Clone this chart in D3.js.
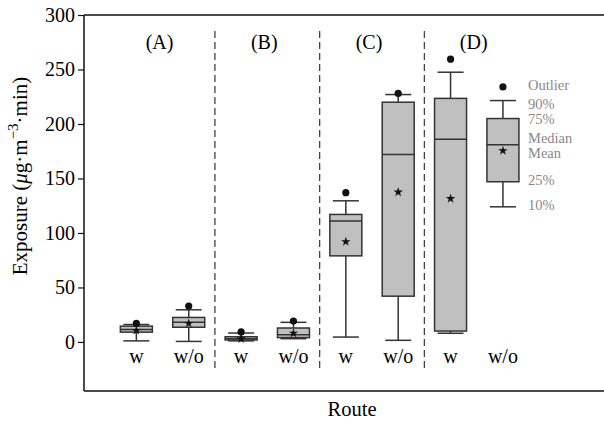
<!DOCTYPE html>
<html>
<head>
<meta charset="utf-8">
<script src="https://cdn.jsdelivr.net/npm/d3@7"></script>
<style>
  body { margin: 0; background: #fff; }
  svg text { font-family: "Liberation Serif", "Times New Roman", serif; }
</style>
</head>
<body>
<svg id="chart" width="604" height="423"></svg>
<script>
// groups and routes
var groups = ["(A)", "(B)", "(C)", "(D)"];
var routes = ["w", "w/o", "w", "w/o", "w", "w/o", "w", "w/o"];

// box stats, one entry per box
var p10     = [1,    0.5,  1,   3,    4.5,   1.5,   8,     124];
var p25     = [9,    13.5, 1.8, 4,    79,    42,    10,    147];
var median  = [11.5, 18,   3,   6.5,  111,   172,   186,   181];
var p75     = [14.5, 22.5, 4.8, 12.8, 117,   220,   223.5, 205];
var p90     = [16,   29.5, 8.2, 18,   129.5, 227,   247.5, 221.5];
var mean    = [10.5, 17,   2.8, 8,    92,    137.5, 131.5, 175.5];
var outlier = [17,   33,   9.2, 19.2, 137,   228,   259.5, 234];

var yTicks = [0, 50, 100, 150, 200, 250, 300];
var legendLabels = ["Outlier", "90%", "75%", "Median", "Mean", "25%", "10%"];

var svg = d3.select("#chart");
var plotL = 84, plotT = 15, plotR = 604, plotB = 391;

var y = d3.scaleLinear().domain([-45, 300]).range([plotB, plotT]);
// slot 0 is empty, boxes sit on slots 1..8
var x = d3.scaleLinear().domain([0, 9.93]).range([plotL, plotR]);

var boxes = routes.map(function (r, i) {
    return {
        route: r, pos: i + 1,
        p10: p10[i], p25: p25[i], median: median[i], p75: p75[i],
        p90: p90[i], mean: mean[i], outlier: outlier[i]
    };
});

var boxW = 32, capW = 26;
var ink = "#333";
var txt = "#000";

/* frame */
svg.append("line").attr("x1", plotL).attr("x2", plotR).attr("y1", plotT).attr("y2", plotT)
    .attr("stroke", "#111").attr("stroke-width", 1.5);
svg.append("line").attr("x1", plotL).attr("x2", plotR).attr("y1", plotB).attr("y2", plotB)
    .attr("stroke", "#111").attr("stroke-width", 1.5);

/* y axis */
var yAxis = svg.append("g")
    .attr("transform", "translate(" + plotL + ",0)")
    .call(d3.axisLeft(y).tickValues(yTicks).tickSize(6).tickPadding(3));
yAxis.select(".domain").remove();
yAxis.append("line").attr("y1", plotT).attr("y2", plotB)
    .attr("stroke", "#111").attr("stroke-width", 1.5);
yAxis.selectAll(".tick line").attr("stroke", "#111").attr("stroke-width", 1.2);
yAxis.selectAll(".tick text")
    .attr("font-size", 20).attr("fill", txt)
    .style("font-family", "Liberation Serif, serif");

/* y label */
var ylab = svg.append("text")
    .attr("transform", "translate(27," + 176 + ") rotate(-90)")
    .attr("text-anchor", "middle")
    .attr("font-size", 21)
    .attr("fill", txt);
ylab.append("tspan").text("Exposure (");
ylab.append("tspan").attr("font-style", "italic").text("\u03bc");
ylab.append("tspan").text("g\u00b7m");
ylab.append("tspan").attr("dy", -9).attr("font-size", 15).text("\u22123");
ylab.append("tspan").attr("dy", 9).text("\u00b7min)");

/* x label */
svg.append("text")
    .attr("x", (plotL + plotR) / 2 + 8).attr("y", 416)
    .attr("text-anchor", "middle")
    .attr("font-size", 20.5).attr("fill", txt)
    .text("Route");

/* dividers between groups */
var dividers = [2.5, 4.5, 6.5];
svg.selectAll("line.divider")
    .data(dividers)
    .enter()
    .append("line")
    .attr("class", "divider")
    .attr("x1", function (d) { return x(d); })
    .attr("x2", function (d) { return x(d); })
    .attr("y1", 31).attr("y2", 370)
    .attr("stroke", "#444")
    .attr("stroke-width", 1.3)
    .attr("stroke-dasharray", "7,4");

/* group labels */
svg.selectAll("text.group")
    .data(groups)
    .enter()
    .append("text")
    .attr("class", "group")
    .attr("x", function (d, i) { return x(i * 2 + 1.5) - 3; })
    .attr("y", 49)
    .attr("text-anchor", "middle")
    .attr("font-size", 20).attr("fill", txt)
    .text(function (d) { return d; });

/* route labels */
svg.selectAll("text.route")
    .data(boxes)
    .enter()
    .append("text")
    .attr("class", "route")
    .attr("x", function (d) { return x(d.pos); })
    .attr("y", 363)
    .attr("text-anchor", "middle")
    .attr("font-size", 20).attr("fill", txt)
    .text(function (d) { return d.route; });

/* boxes */
var g = svg.selectAll("g.box")
    .data(boxes)
    .enter()
    .append("g")
    .attr("class", "box");

// whiskers
g.append("line")
    .attr("x1", function (d) { return x(d.pos); })
    .attr("x2", function (d) { return x(d.pos); })
    .attr("y1", function (d) { return y(d.p90); })
    .attr("y2", function (d) { return y(d.p10); })
    .attr("stroke", ink).attr("stroke-width", 1.5);
g.append("line")
    .attr("x1", function (d) { return x(d.pos) - capW / 2; })
    .attr("x2", function (d) { return x(d.pos) + capW / 2; })
    .attr("y1", function (d) { return y(d.p90); })
    .attr("y2", function (d) { return y(d.p90); })
    .attr("stroke", ink).attr("stroke-width", 1.5);
g.append("line")
    .attr("x1", function (d) { return x(d.pos) - capW / 2; })
    .attr("x2", function (d) { return x(d.pos) + capW / 2; })
    .attr("y1", function (d) { return y(d.p10); })
    .attr("y2", function (d) { return y(d.p10); })
    .attr("stroke", ink).attr("stroke-width", 1.5);

// box body
g.append("rect")
    .attr("x", function (d) { return x(d.pos) - boxW / 2; })
    .attr("width", boxW)
    .attr("y", function (d) { return y(d.p75); })
    .attr("height", function (d) { return y(d.p25) - y(d.p75); })
    .attr("fill", "#c0c0c0")
    .attr("stroke", ink).attr("stroke-width", 1.5);

// median
g.append("line")
    .attr("x1", function (d) { return x(d.pos) - boxW / 2; })
    .attr("x2", function (d) { return x(d.pos) + boxW / 2; })
    .attr("y1", function (d) { return y(d.median); })
    .attr("y2", function (d) { return y(d.median); })
    .attr("stroke", ink).attr("stroke-width", 1.5);

// mean star
g.append("path")
    .attr("d", d3.symbol().type(d3.symbolStar).size(28))
    .attr("transform", function (d) { return "translate(" + x(d.pos) + "," + y(d.mean) + ")"; })
    .attr("fill", "#111");

// outlier
g.append("circle")
    .attr("cx", function (d) { return x(d.pos); })
    .attr("cy", function (d) { return y(d.outlier); })
    .attr("r", 3.6)
    .attr("fill", "#111");

/* legend next to the last box */
var last = boxes[boxes.length - 1];
var legendVals = [last.outlier, last.p90, last.p75, last.median, last.mean, last.p25, last.p10];
var legendNudge = [-2, 3, 0, -6.5, 2.5, -1.5, -1.5];
svg.selectAll("text.legend")
    .data(legendLabels)
    .enter()
    .append("text")
    .attr("class", "legend")
    .attr("x", 528)
    .attr("y", function (d, i) { return y(legendVals[i]) + legendNudge[i]; })
    .attr("dy", "0.35em")
    .attr("font-size", 14.5)
    .attr("fill", "#888")
    .text(function (d) { return d; });
</script>
</body>
</html>
